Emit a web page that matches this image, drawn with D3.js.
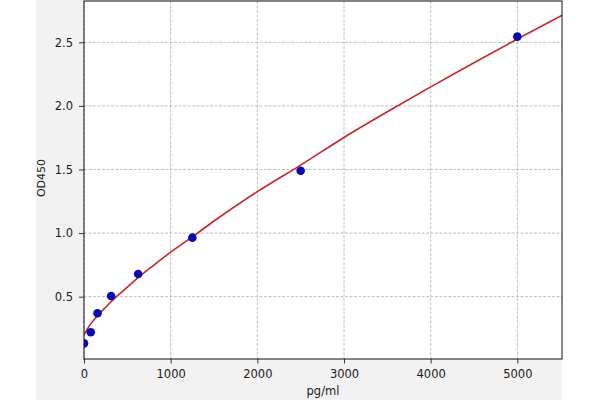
<!DOCTYPE html>
<html>
<head>
<meta charset="utf-8">
<script src="https://cdn.jsdelivr.net/npm/d3@7"></script>
<style>
  html, body { margin: 0; padding: 0; background: #ffffff; }
  svg { display: block; }
  text { font-family: "DejaVu Sans", sans-serif; }
</style>
</head>
<body>
<svg id="chart" width="600" height="400"></svg>
<script>
// Standard points (concentration pg/ml, OD450)
const concentrations = [0, 78, 156, 312.5, 625, 1250, 2500, 5000];
const odValues = [0.133, 0.22, 0.37, 0.505, 0.678, 0.964, 1.49, 2.545];

// Fitted curve
const curveX = [0, 69, 146, 250, 358, 500, 608, 800, 1000, 1250, 1500, 2000, 2500, 3000, 3500, 4000, 4500, 5000, 5515];
const curveY = [0.20, 0.278, 0.342, 0.417, 0.49, 0.575, 0.64, 0.745, 0.85, 0.97, 1.095, 1.326, 1.535, 1.752, 1.954, 2.15, 2.339, 2.526, 2.712];

const xTicks = [0, 1000, 2000, 3000, 4000, 5000];
const yTicks = [0.5, 1.0, 1.5, 2.0, 2.5];
const xDomain = [0, 5515];
const yDomain = [0.01, 2.825];
const xTitle = "pg/ml";
const yTitle = "OD450";

(function () {
const svg = d3.select("#chart");
const mLeft = 84, mRight = 562, mTop = 1, mBottom = 359;

// figure background
svg.append("rect").attr("x", 36).attr("y", 0).attr("width", mRight - 36).attr("height", 400).attr("fill", "#f2f2f2");
svg.append("rect").attr("x", mLeft).attr("y", mTop).attr("width", mRight - mLeft).attr("height", mBottom - mTop).attr("fill", "#ffffff");

const x = d3.scaleLinear().domain(xDomain).range([mLeft, mRight]);
const y = d3.scaleLinear().domain(yDomain).range([mBottom, mTop]);

// grid
const grid = svg.append("g").attr("stroke", "#b0b0b0").attr("stroke-width", 0.8).attr("stroke-dasharray", "3,1.5");
grid.selectAll("line.vx").data(xTicks).join("line")
  .attr("x1", d => x(d)).attr("x2", d => x(d)).attr("y1", mTop).attr("y2", mBottom);
grid.selectAll("line.hy").data(yTicks).join("line")
  .attr("x1", mLeft).attr("x2", mRight).attr("y1", d => y(d)).attr("y2", d => y(d));

// clip
svg.append("clipPath").attr("id", "clip").append("rect")
  .attr("x", mLeft).attr("y", mTop).attr("width", mRight - mLeft).attr("height", mBottom - mTop);

const plot = svg.append("g").attr("clip-path", "url(#clip)");

// curve
const curveData = curveX.map((d, i) => [d, curveY[i]]);
plot.append("path").datum(curveData)
  .attr("fill", "none").attr("stroke", "#c62828").attr("stroke-width", 1.6)
  .attr("d", d3.line().x(d => x(d[0])).y(d => y(d[1])).curve(d3.curveMonotoneX));

// points
plot.selectAll("circle").data(concentrations).join("circle")
  .attr("cx", d => x(d)).attr("cy", (d, i) => y(odValues[i])).attr("r", 4.3)
  .attr("fill", "#0a0ab4");

// axes
const xAxis = d3.axisBottom(x).tickValues(xTicks).tickFormat(d3.format("d")).tickSizeOuter(0).tickSize(4.5).tickPadding(6.5);
const yAxis = d3.axisLeft(y).tickValues(yTicks).tickFormat(d3.format(".1f")).tickSizeOuter(0).tickSize(5).tickPadding(6);

const gx = svg.append("g").attr("transform", `translate(0,${mBottom})`).call(xAxis);
const gy = svg.append("g").attr("transform", `translate(${mLeft},0)`).call(yAxis);
[gx, gy].forEach(g => {
  g.select(".domain").remove();
  g.selectAll(".tick line").attr("stroke", "#222").attr("stroke-width", 0.9);
  g.selectAll(".tick text").attr("fill", "#1a1a1a").style("font-size", "11.5px").style("font-family", "DejaVu Sans, sans-serif");
});

// frame
svg.append("rect").attr("x", mLeft).attr("y", mTop).attr("width", mRight - mLeft).attr("height", mBottom - mTop)
  .attr("fill", "none").attr("stroke", "#111").attr("stroke-width", 1);

// titles
svg.append("text").attr("x", (mLeft + mRight) / 2).attr("y", 395).attr("text-anchor", "middle")
  .style("font-size", "11.5px").attr("fill", "#1a1a1a").text(xTitle);
svg.append("text").attr("transform", `translate(45,178) rotate(-90)`).attr("text-anchor", "middle")
  .style("font-size", "11px").attr("fill", "#1a1a1a").text(yTitle);
})();
</script>
</body>
</html>
